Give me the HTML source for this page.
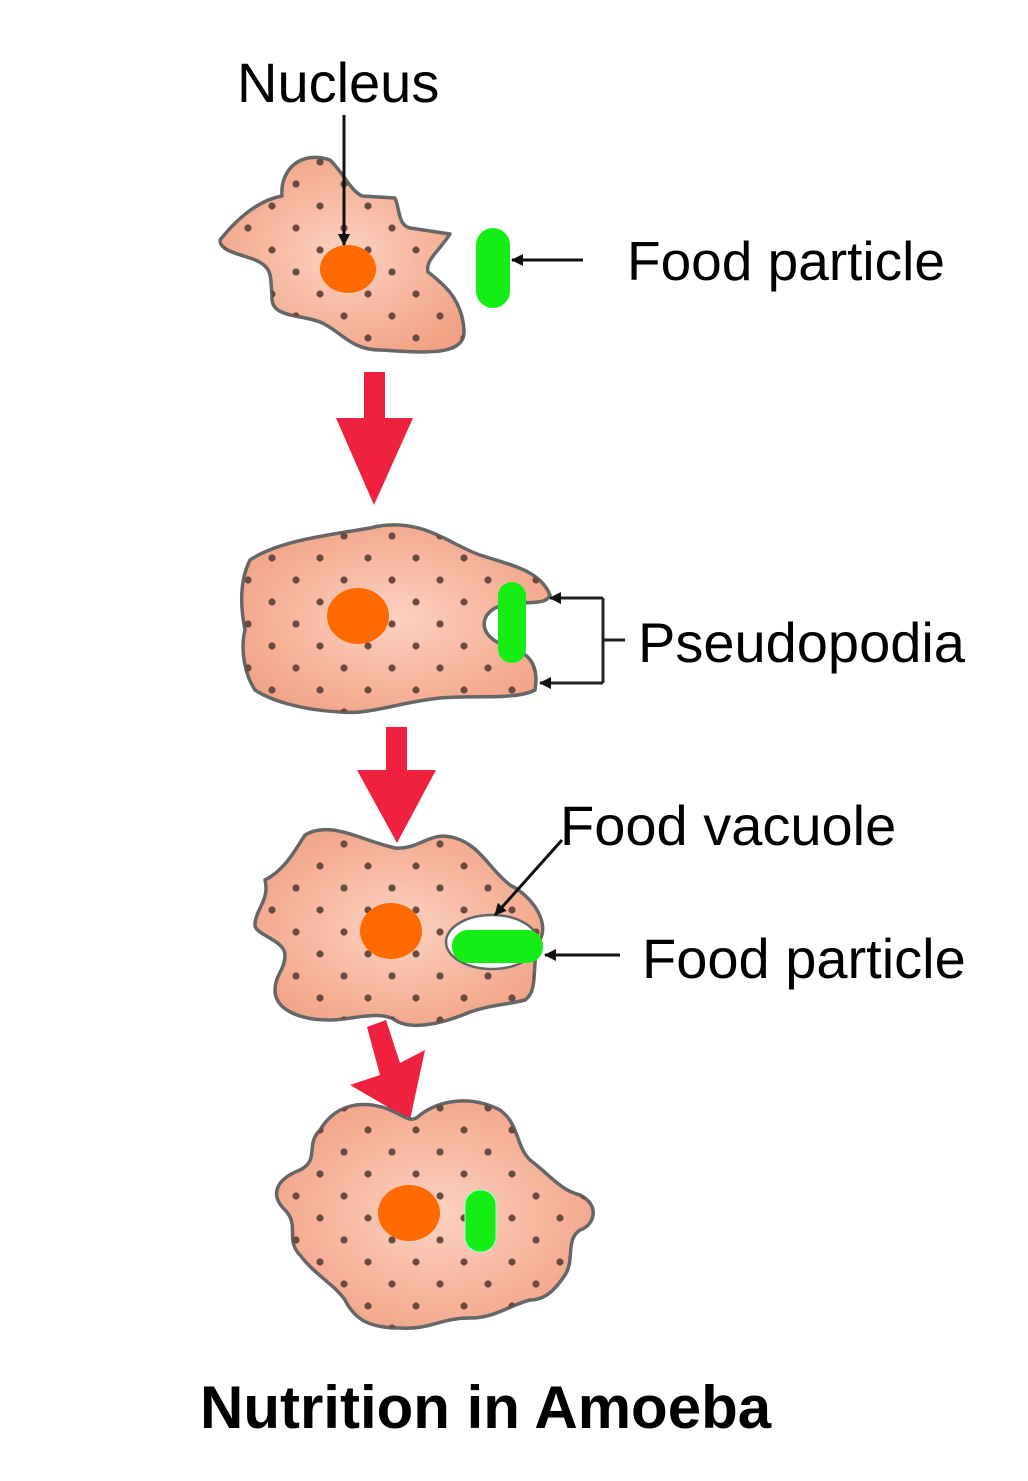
<!DOCTYPE html>
<html><head><meta charset="utf-8"><style>
html,body{margin:0;padding:0;background:#fff}
svg{display:block}
text{font-family:"Liberation Sans",Arial,sans-serif;fill:#000}
</style></head><body>
<svg width="1028" height="1481" viewBox="0 0 1028 1481" xmlns="http://www.w3.org/2000/svg">
<defs>
<radialGradient id="g" cx="50%" cy="50%" r="60%">
<stop offset="0" stop-color="#fcd2c0"/><stop offset="1" stop-color="#f1a284"/>
</radialGradient>
<pattern id="d" width="48" height="44" patternUnits="userSpaceOnUse">
<circle cx="8" cy="8" r="3.6" fill="#6b4b40"/><circle cx="32" cy="30" r="3.6" fill="#6b4b40"/>
</pattern>
<marker id="a" markerWidth="12" markerHeight="12" refX="11" refY="6" orient="auto" markerUnits="userSpaceOnUse">
<path d="M0,0 L12,6 L0,12 Z" fill="#111"/></marker>
</defs>
<g stroke-linejoin="round">
<path d="M220,240 C240,215 260,200 282,196 C280,170 300,150 330,160 C345,175 350,190 362,196 L395,198 C400,210 398,225 410,228 L450,234 C440,250 425,260 428,272 C445,285 462,300 464,330 C466,358 420,352 380,350 C350,350 340,330 320,322 C300,314 270,318 272,296 C270,276 274,266 250,258 C235,253 220,250 220,240 Z" fill="url(#g)" stroke="#666" stroke-width="3.5"/>
<path d="M220,240 C240,215 260,200 282,196 C280,170 300,150 330,160 C345,175 350,190 362,196 L395,198 C400,210 398,225 410,228 L450,234 C440,250 425,260 428,272 C445,285 462,300 464,330 C466,358 420,352 380,350 C350,350 340,330 320,322 C300,314 270,318 272,296 C270,276 274,266 250,258 C235,253 220,250 220,240 Z" fill="url(#d)"/>
<ellipse cx="348" cy="269" rx="28" ry="24" fill="#ff6a00"/>
<rect x="476" y="228" width="34" height="80" rx="17" fill="#14ee14"/>
<line x1="344" y1="115" x2="344" y2="245" stroke="#111" stroke-width="3" marker-end="url(#a)"/>
<line x1="583" y1="260" x2="512" y2="260" stroke="#111" stroke-width="3" marker-end="url(#a)"/>

<rect x="364" y="372" width="21" height="50" fill="#f0203f"/>
<path d="M336,418 L413,418 L374,505 Z" fill="#f0203f"/>

<path d="M250,560 C280,540 330,535 370,528 C420,515 450,545 480,555 C510,565 540,570 550,595 C545,608 520,598 495,608 C475,620 485,640 505,645 C525,652 540,660 535,690 C515,700 480,695 440,698 C400,702 370,715 340,712 C300,710 270,700 255,690 C245,675 240,650 245,630 C240,605 240,580 250,560 Z" fill="url(#g)" stroke="#666" stroke-width="3.5"/>
<path d="M250,560 C280,540 330,535 370,528 C420,515 450,545 480,555 C510,565 540,570 550,595 C545,608 520,598 495,608 C475,620 485,640 505,645 C525,652 540,660 535,690 C515,700 480,695 440,698 C400,702 370,715 340,712 C300,710 270,700 255,690 C245,675 240,650 245,630 C240,605 240,580 250,560 Z" fill="url(#d)"/>
<ellipse cx="358" cy="616" rx="31" ry="28" fill="#ff6a00"/>
<rect x="498" y="582" width="28" height="81" rx="14" fill="#14ee14"/>
<polyline points="603,598 603,683" fill="none" stroke="#222" stroke-width="3"/>
<line x1="603" y1="598" x2="550" y2="598" stroke="#222" stroke-width="3" marker-end="url(#a)"/>
<line x1="603" y1="683" x2="540" y2="683" stroke="#222" stroke-width="3" marker-end="url(#a)"/>
<line x1="603" y1="640" x2="625" y2="640" stroke="#222" stroke-width="3"/>

<rect x="386" y="727" width="21" height="50" fill="#f0203f"/>
<path d="M357,770 L436,770 L397,843 Z" fill="#f0203f"/>

<path d="M265,880 C285,870 295,850 305,835 C330,820 360,840 395,848 C420,850 430,830 455,838 C480,845 490,870 510,885 C530,895 550,920 540,940 C530,960 540,990 525,1000 C505,1005 490,1005 470,1012 C440,1025 410,1030 395,1020 C380,1010 350,1020 330,1020 C300,1020 275,1010 275,990 C275,975 285,970 285,955 C285,940 255,935 255,925 C255,910 270,900 265,880 Z" fill="url(#g)" stroke="#666" stroke-width="3.5"/>
<path d="M265,880 C285,870 295,850 305,835 C330,820 360,840 395,848 C420,850 430,830 455,838 C480,845 490,870 510,885 C530,895 550,920 540,940 C530,960 540,990 525,1000 C505,1005 490,1005 470,1012 C440,1025 410,1030 395,1020 C380,1010 350,1020 330,1020 C300,1020 275,1010 275,990 C275,975 285,970 285,955 C285,940 255,935 255,925 C255,910 270,900 265,880 Z" fill="url(#d)"/>
<ellipse cx="391" cy="931" rx="31" ry="28" fill="#ff6a00"/>
<ellipse cx="492" cy="942" rx="46" ry="27" fill="#fff" stroke="#666" stroke-width="2.5"/>
<rect x="452" y="930" width="91" height="33" rx="16" fill="#14ee14"/>
<line x1="562" y1="840" x2="495" y2="915" stroke="#111" stroke-width="3" marker-end="url(#a)"/>
<line x1="620" y1="955" x2="545" y2="955" stroke="#111" stroke-width="3" marker-end="url(#a)"/>

<path d="M367,1027 L386,1020 L400,1063 L425,1050 L410,1120 L350,1085 L380,1075 Z" fill="#f0203f"/>

<path d="M320,1130 C335,1105 360,1100 385,1108 C405,1115 410,1125 420,1115 C440,1100 470,1095 500,1110 C520,1125 515,1145 530,1160 C550,1175 560,1190 580,1195 C600,1205 595,1225 580,1230 C565,1240 575,1260 565,1275 C555,1290 545,1300 530,1300 C510,1305 495,1318 470,1318 C440,1318 430,1330 400,1328 C370,1328 355,1320 345,1300 C335,1285 315,1275 300,1255 C285,1240 300,1225 285,1210 C270,1195 275,1180 300,1170 C320,1160 305,1145 320,1130 Z" fill="url(#g)" stroke="#666" stroke-width="3.5"/>
<path d="M320,1130 C335,1105 360,1100 385,1108 C405,1115 410,1125 420,1115 C440,1100 470,1095 500,1110 C520,1125 515,1145 530,1160 C550,1175 560,1190 580,1195 C600,1205 595,1225 580,1230 C565,1240 575,1260 565,1275 C555,1290 545,1300 530,1300 C510,1305 495,1318 470,1318 C440,1318 430,1330 400,1328 C370,1328 355,1320 345,1300 C335,1285 315,1275 300,1255 C285,1240 300,1225 285,1210 C270,1195 275,1180 300,1170 C320,1160 305,1145 320,1130 Z" fill="url(#d)"/>
<ellipse cx="409" cy="1213" rx="31" ry="28" fill="#ff6a00"/>
<rect x="465" y="1190" width="31" height="62" rx="15" fill="#14ee14" stroke="#9fd" stroke-width="1"/>
</g>

<text x="237" y="102" font-size="56">Nucleus</text>
<text x="627" y="280" font-size="55">Food particle</text>
<text x="638" y="662" font-size="56">Pseudopodia</text>
<text x="560" y="845" font-size="56">Food vacuole</text>
<text x="642" y="978" font-size="56">Food particle</text>
<text x="200" y="1428" font-size="60" font-weight="bold">Nutrition in Amoeba</text>
</svg>
</body></html>
